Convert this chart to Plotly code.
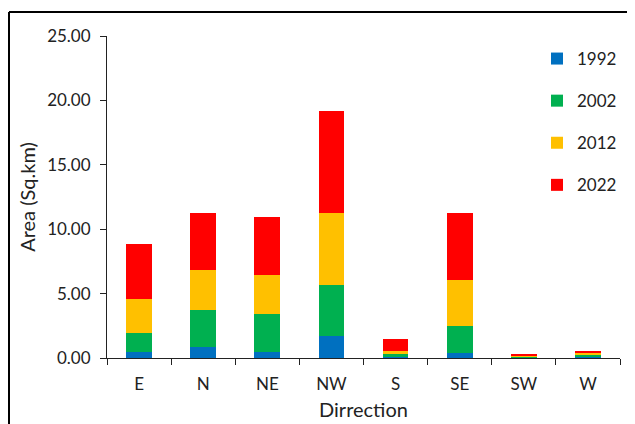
import plotly.graph_objects as go

categories = ["E", "N", "NE", "NW", "S", "SE", "SW", "W"]
years = ["1992", "2002", "2012", "2022"]
v1992 = [0.50, 0.83, 0.46, 1.71, 0.05, 0.41, 0.03, 0.04]
v2002 = [1.46, 2.92, 2.93, 3.98, 0.28, 2.09, 0.09, 0.19]
v2012 = [2.60, 3.11, 3.05, 5.57, 0.19, 3.53, 0.09, 0.18]
v2022 = [4.27, 4.37, 4.48, 7.92, 0.98, 5.25, 0.09, 0.16]
colors = ["#0070C0", "#00B050", "#FFC000", "#FF0000"]
tick_vals = [0, 5, 10, 15, 20, 25]

font = "Lato, 'Open Sans', sans-serif"
fig = go.Figure()
for name, vals, col in zip(years, [v1992, v2002, v2012, v2022], colors):
    fig.add_trace(go.Bar(x=categories, y=vals, name=name, marker_color=col,
                         marker_line_width=0, legendgroup=name))

# page body has an 8px margin; figure coords = screen coords - 8
W, H = 627, 416
L, T = 99, 28
pw, ph = 513, 322
R = W - L - pw
B = H - T - ph
bottom = T + ph  # fig y of plot bottom

fig.update_layout(
    width=W, height=H, barmode="stack", bargap=0.6,
    margin=dict(l=L, r=R, t=T, b=B, autoexpand=False),
    paper_bgcolor="white", plot_bgcolor="white",
    font=dict(family=font, color="#222", size=17),
    legend=dict(x=(529 - L) / pw, y=(bottom - 33) / ph, xanchor="left", yanchor="top",
                traceorder="grouped", tracegroupgap=17, font=dict(size=17),
                bgcolor="rgba(0,0,0,0)"),
    xaxis=dict(showline=True, linecolor="#222", linewidth=1, ticks="outside",
               tickson="boundaries", ticklen=6, tickcolor="#222",
               ticklabelstandoff=11,
               title=dict(text="Dirrection", font=dict(size=20), standoff=9),
               tickfont=dict(size=17)),
    yaxis=dict(range=[0, 25], tickvals=tick_vals, tickformat=".2f", showline=True,
               linecolor="#222", linewidth=1, ticks="outside", ticklen=6,
               tickcolor="#222", showgrid=False, zeroline=False,
               ticklabelstandoff=6,
               title=dict(text="Area (Sq.km)", font=dict(size=20), standoff=6),
               tickfont=dict(size=17)),
    shapes=[
        dict(type="line", xref="paper", yref="paper",
             x0=(1 - L) / pw, x1=(W + 5 - L) / pw,
             y0=(bottom - 4) / ph, y1=(bottom - 4) / ph,
             line=dict(color="black", width=2)),
        dict(type="line", xref="paper", yref="paper",
             x0=(1 - L) / pw, x1=(1 - L) / pw,
             y0=(bottom - 4) / ph, y1=(bottom - H - 5) / ph,
             line=dict(color="black", width=2)),
    ],
)
fig.write_html("out.html")
